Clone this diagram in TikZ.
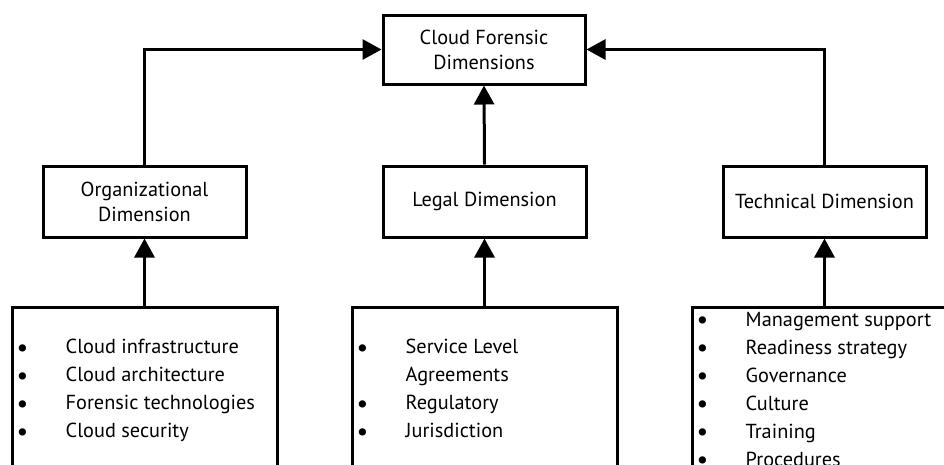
\documentclass[tikz,border=0pt]{standalone}
\usepackage{fontspec}
\setmainfont{PT Sans}
\usetikzlibrary{arrows.meta}

\newcommand{\itm}[1]{\makebox[49pt][l]{\raisebox{-2.5pt}[0pt][0pt]{\fontsize{26}{28}\selectfont•}}#1}

\begin{document}
\begin{tikzpicture}[x=1pt,y=-1pt,>={Triangle[length=19pt,width=20pt]},
    dimbox/.style={draw,line width=3pt,minimum width=203pt,minimum height=71pt,align=center,inner sep=0pt,font=\fontsize{20.3}{25}\selectfont},
    listbox/.style={draw,line width=3pt,minimum width=265pt,minimum height=200pt,anchor=north},
    listtext/.style={anchor=north west,align=left,inner sep=0pt,font=\fontsize{20.3}{28}\selectfont},
    link/.style={line width=3pt,->}]
    \clip (0,0) rectangle (944,464);

    % top box
    \node[dimbox,minimum width=202pt,minimum height=69pt] (cfd) at (484,49.5) {Cloud Forensic\\Dimensions};

    % the three dimensions
    \node[dimbox] (org) at (144.5,201.5) {Organizational\\Dimension};
    \node[dimbox] (legal) at (484.5,201.5) {Legal Dimension};
    \node[dimbox] (tech) at (824.5,201.5) {Technical Dimension};

    % boxes with the lists
    \node[listbox] (orgbox) at (144.5,306) {};
    \node[listbox] (legalbox) at (484.5,306) {};
    \node[listbox] (techbox) at (824.5,306) {};

    \node[listtext] (orglist) at ([shift={(6,33)}]orgbox.north west)
        {\itm{Cloud infrastructure}\\\itm{Cloud architecture}\\\itm{Forensic technologies}\\\itm{Cloud security}};
    \node[listtext] (legallist) at ([shift={(6,33)}]legalbox.north west)
        {\itm{Service Level}\\\hspace*{49pt}Agreements\\\itm{Regulatory}\\\itm{Jurisdiction}};
    \node[listtext] (techlist) at ([shift={(6,6)}]techbox.north west)
        {\itm{Management support}\\\itm{Readiness strategy}\\\itm{Governance}\\\itm{Culture}\\\itm{Training}\\\itm{Procedures}};

    % arrows
    \draw[link] (org.north) |- (cfd.west);
    \draw[link] (tech.north) |- (cfd.east);
    \draw[link] (legal.north) -- (cfd.south);
    \draw[link] (orgbox.north) -- (org.south);
    \draw[link] (legalbox.north) -- (legal.south);
    \draw[link] (techbox.north) -- (tech.south);
\end{tikzpicture}
\end{document}
